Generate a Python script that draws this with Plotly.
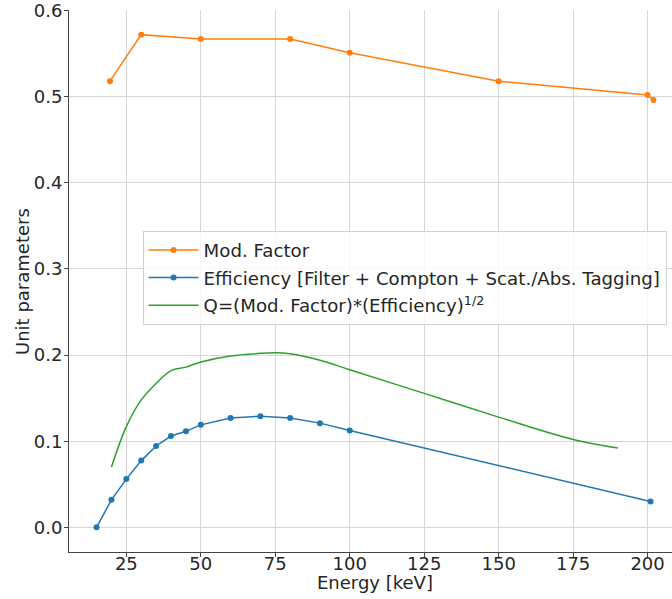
import plotly.graph_objects as go

# Mod. Factor
mod_energy = [19.5, 30, 50, 80, 100, 150, 200, 202]
mod_factor = [0.518, 0.572, 0.567, 0.567, 0.551, 0.518, 0.502, 0.496]

# Efficiency
eff_energy = [15, 20, 25, 30, 35, 40, 45, 50, 60, 70, 80, 90, 100, 201]
efficiency = [0.000, 0.032, 0.056, 0.0775, 0.0945, 0.106, 0.1115, 0.119, 0.127, 0.129, 0.127, 0.121, 0.1125, 0.030]

# Q
q_energy = [20, 25, 30, 35, 40, 45, 50, 60, 70, 75, 80, 90, 100, 125, 150, 175, 190]
q_value = [0.070, 0.117, 0.148, 0.167, 0.182, 0.186, 0.192, 0.199, 0.202, 0.2027, 0.2015, 0.194, 0.183, 0.1555, 0.128, 0.102, 0.092]

x_ticks = [25, 50, 75, 100, 125, 150, 175, 200]
y_ticks = [0.0, 0.1, 0.2, 0.3, 0.4, 0.5, 0.6]

FONT = "DejaVu Sans"
TXT = "#262626"

fig = go.Figure()
fig.add_trace(go.Scatter(x=mod_energy, y=mod_factor, mode="lines+markers",
                         name="Mod. Factor", legendgroup="a",
                         line=dict(color="#ff7f0e", width=1.5),
                         marker=dict(color="#ff7f0e", size=6)))
fig.add_trace(go.Scatter(x=eff_energy, y=efficiency, mode="lines+markers",
                         name="Efficiency [Filter + Compton + Scat./Abs. Tagging]", legendgroup="b",
                         line=dict(color="#1f77b4", width=1.5),
                         marker=dict(color="#1f77b4", size=6)))
fig.add_trace(go.Scatter(x=q_energy, y=q_value, mode="lines", line_shape="spline",
                         name="Q=(Mod. Factor)*(Efficiency)<sup>1/2</sup>", legendgroup="c",
                         line=dict(color="#2ca02c", width=1.5)))

fig.update_layout(
    width=672, height=599,
    margin=dict(l=69, r=0, t=10, b=47, autoexpand=False),
    paper_bgcolor="white", plot_bgcolor="white",
    font=dict(family=FONT, size=18, color=TXT),
    showlegend=True,
    legend=dict(x=0.122, y=0.593, xanchor="left", yanchor="top",
                bgcolor="rgba(255,255,255,0.8)", bordercolor="#d0d0d0", borderwidth=1,
                font=dict(family=FONT, size=18.2, color=TXT),
                traceorder="grouped", tracegroupgap=1, itemwidth=50),
    xaxis=dict(range=[5.75, 208.2], tickvals=x_ticks, ticktext=[str(v) for v in x_ticks],
               automargin=False, ticklabeloverflow="allow", ticklabelstandoff=-9,
               showgrid=True, gridcolor="#d6d6d6", gridwidth=1, zeroline=False,
               showline=True, linecolor="#444444", linewidth=1,
               ticks="outside", ticklen=4, tickcolor="#444444",
               tickfont=dict(family=FONT, size=18, color=TXT)),
    yaxis=dict(range=[-0.0286, 0.6006], tickvals=y_ticks, ticktext=[f"{v:.1f}" for v in y_ticks],
               automargin=False, ticklabeloverflow="allow", ticklabelstandoff=-2,
               showgrid=True, gridcolor="#d6d6d6", gridwidth=1, zeroline=False,
               showline=True, linecolor="#444444", linewidth=1,
               ticks="outside", ticklen=4, tickcolor="#444444",
               tickfont=dict(family=FONT, size=18, color=TXT)),
    annotations=[
        dict(text="Energy [keV]", xref="paper", yref="paper", x=0.507, y=-0.057,
             xanchor="center", yanchor="middle", showarrow=False,
             font=dict(family=FONT, size=18, color=TXT)),
        dict(text="Unit parameters", xref="paper", yref="paper", x=-0.078, y=0.5,
             xanchor="center", yanchor="middle", showarrow=False, textangle=-90,
             font=dict(family=FONT, size=18, color=TXT)),
    ],
)

fig.write_html("out.html", config={"displayModeBar": False},
               post_script="document.body.style.margin='0';")
